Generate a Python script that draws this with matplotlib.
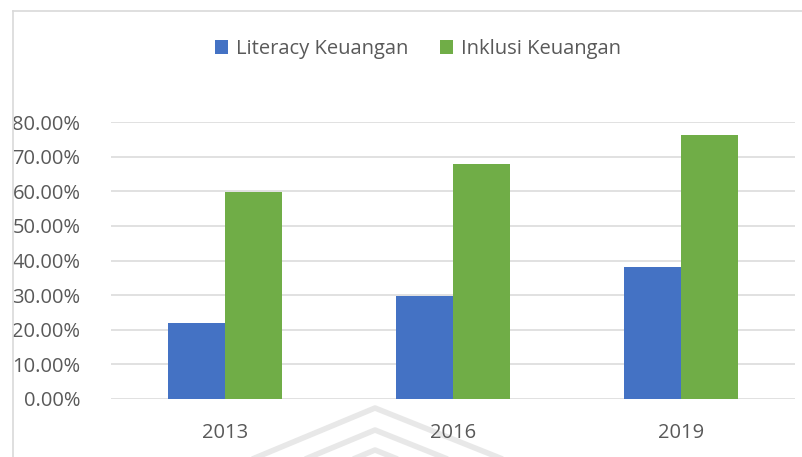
import matplotlib
matplotlib.use("Agg")
import matplotlib.pyplot as plt
import numpy as np
from matplotlib.ticker import PercentFormatter
from matplotlib.lines import Line2D

years = ["2013", "2016", "2019"]
series_names = ["Literacy Keuangan", "Inklusi Keuangan"]
literacy = [21.84, 29.66, 38.03]
inklusi = [59.74, 67.82, 76.19]
colors = ["#4472C4", "#70AD47"]

plt.rcParams['font.family'] = ['Open Sans', 'DejaVu Sans']
txt = "#595959"
fs = 14.5
W, H = 802, 457
fig = plt.figure(figsize=(W/100, H/100), dpi=100)

# chart border
fig.add_artist(Line2D([13/W, 13/W], [0, 1-11/H], color="#d9d9d9", lw=1.2, transform=fig.transFigure))
fig.add_artist(Line2D([13/W, 1], [1-11/H, 1-11/H], color="#d9d9d9", lw=1.2, transform=fig.transFigure))

# faint watermark chevrons
for dy in [0, 22, 42]:
    xs = np.array([250, 375, 510]) / W
    ys = 1 - (np.array([460, 408, 462]) + dy) / H
    fig.add_artist(Line2D(xs, ys, color="#e8e8e8", lw=4, transform=fig.transFigure, zorder=0))

ax = fig.add_axes([111/W, 58/H, 684/W, 277/H])
x = np.arange(len(years))
w = 0.25
ax.bar(x - w/2, literacy, w, color=colors[0], label=series_names[0], zorder=3)
ax.bar(x + w/2, inklusi, w, color=colors[1], label=series_names[1], zorder=3)

ax.set_xlim(-0.5, 2.5)
ax.set_ylim(0, 80)
ax.set_yticks(np.arange(0, 81, 10))
ax.yaxis.set_major_formatter(PercentFormatter(decimals=2))
ax.set_xticks(x)
ax.set_xticklabels(years)
ax.grid(axis="y", color="#d9d9d9", lw=1.1, zorder=0)
for s in ax.spines.values():
    s.set_visible(False)
ax.tick_params(axis="y", length=0, pad=22, labelsize=fs, labelcolor=txt)
ax.tick_params(axis="x", length=0, pad=17, labelsize=fs, labelcolor=txt)

handles, labels = ax.get_legend_handles_labels()
fig.legend(handles, labels, loc="center", bbox_to_anchor=(418/W, 1-49/H), ncol=2,
           frameon=False, fontsize=fs, labelcolor=txt, handlelength=0.65, handleheight=0.65,
           handletextpad=0.4, columnspacing=1.6)

fig.savefig("out.png", dpi=100)
